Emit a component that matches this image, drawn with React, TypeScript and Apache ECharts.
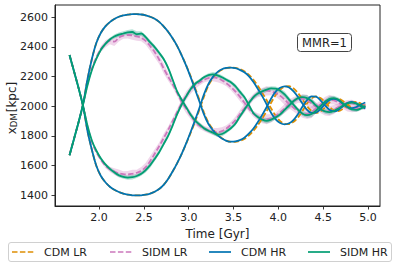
import React, { useEffect, useRef } from "react";
import * as echarts from "echarts";

// Time samples [Gyr]
const T = [1.67,1.72,1.77,1.82,1.87,1.92,1.97,2.02,2.07,2.12,2.17,2.22,2.27,2.32,2.37,2.42,2.47,2.52,2.57,2.62,2.67,2.72,2.77,2.82,2.87,2.92,2.97,3.02,3.07,3.12,3.17,3.22,3.27,3.32,3.37,3.42,3.47,3.52,3.57,3.62,3.67,3.72,3.77,3.82,3.87,3.92,3.97,4.02,4.07,4.12,4.17,4.22,4.27,4.32,4.37,4.42,4.47,4.52,4.57,4.62,4.67,4.72,4.77,4.82,4.87,4.92,4.97];

// CDM HR, halo A (starts high) and halo B (starts low)
const cdmHRa = [2345,2235,2125,2005,1835,1705,1597,1530,1488,1458,1437,1422,1411,1404,1400,1399,1400,1404,1412,1424,1442,1470,1510,1560,1615,1677,1748,1825,1905,1990,2080,2150,2198,2230,2249,2258,2260,2256,2245,2229,2203,2165,2118,2068,2012,1955,1912,1887,1878,1885,1908,1948,1998,2042,2066,2064,2040,2005,1976,1965,1975,2000,2022,2030,2020,2000,1985];
const cdmHRb = [1670,1780,1890,2010,2180,2320,2428,2495,2538,2567,2588,2603,2612,2617,2620,2620,2618,2612,2603,2589,2568,2538,2502,2458,2407,2345,2275,2198,2115,2030,1945,1880,1838,1805,1782,1767,1761,1763,1772,1788,1815,1848,1892,1942,1995,2052,2098,2124,2134,2126,2100,2062,2017,1976,1955,1957,1980,2015,2042,2050,2040,2016,1996,1987,1995,2012,2025];
// CDM LR
const cdmLRa = [2345,2235,2125,2005,1835,1705,1597,1530,1488,1458,1437,1422,1411,1404,1400,1399,1400,1404,1412,1424,1442,1470,1510,1560,1615,1677,1746,1818,1895,1978,2065,2140,2190,2225,2246,2257,2261,2259,2250,2236,2213,2180,2138,2090,2040,1985,1935,1900,1882,1880,1895,1925,1970,2018,2052,2066,2055,2028,1995,1972,1968,1982,2005,2025,2030,2018,2000];
const cdmLRb = [1670,1780,1890,2010,2180,2320,2428,2495,2538,2567,2588,2603,2612,2617,2620,2620,2618,2612,2603,2589,2568,2538,2502,2458,2407,2345,2278,2205,2125,2042,1958,1890,1845,1810,1785,1768,1760,1760,1767,1780,1803,1833,1872,1918,1968,2025,2075,2112,2132,2135,2120,2088,2045,2000,1968,1955,1965,1992,2025,2045,2050,2035,2012,1992,1985,1995,2012];
// SIDM LR
const sidmLRa = [2345,2235,2125,2005,1865,1760,1690,1640,1600,1575,1560,1548,1542,1540,1545,1552,1565,1590,1630,1680,1730,1785,1840,1900,1960,2020,2070,2110,2140,2160,2178,2190,2195,2190,2175,2155,2130,2100,2065,2025,1985,1950,1928,1915,1912,1918,1935,1958,1985,2012,2035,2048,2050,2040,2020,1998,1978,1968,1968,1978,1995,2012,2022,2020,2010,1998,1992];
const sidmLRb = [1670,1780,1890,2010,2150,2255,2330,2385,2420,2440,2435,2462,2475,2480,2478,2470,2460,2440,2405,2365,2315,2255,2200,2150,2090,2030,1985,1940,1895,1868,1850,1838,1830,1825,1832,1850,1875,1905,1945,1985,2025,2060,2085,2095,2105,2100,2088,2070,2045,2015,1990,1965,1950,1948,1960,1985,2012,2035,2045,2040,2025,2005,1988,1980,1985,1998,2010];
// SIDM HR
const sidmHRa = [2345,2235,2125,2005,1870,1768,1700,1648,1608,1578,1555,1535,1524,1519,1522,1530,1545,1570,1603,1645,1690,1745,1800,1870,1945,2010,2065,2115,2150,2172,2195,2210,2215,2208,2195,2178,2162,2135,2098,2062,2010,1955,1928,1910,1902,1910,1925,1945,1975,2005,2035,2055,2062,2055,2035,2005,1980,1965,1960,1968,1985,2005,2020,2025,2018,2005,1995];
const sidmHRb = [1670,1780,1890,2010,2140,2245,2320,2380,2420,2450,2470,2482,2490,2498,2500,2485,2490,2465,2430,2398,2360,2318,2258,2180,2100,2045,1995,1945,1905,1877,1852,1835,1822,1808,1813,1830,1852,1882,1930,1975,2020,2060,2085,2100,2112,2120,2118,2105,2080,2045,2010,1975,1950,1940,1948,1970,2000,2030,2050,2055,2045,2020,1995,1978,1975,1985,2000];

// Half-widths of the shaded scatter bands
const sidmLRSprA = [4,4,4,5,8,10,12,14,16,18,22,26,20,24,28,20,26,30,34,30,26,30,24,20,22,26,30,28,24,20,18,22,26,28,24,20,22,26,30,24,22,20,24,30,34,28,22,26,30,34,28,24,30,38,32,28,24,30,34,30,24,22,20,24,22,20,18];
const sidmLRSprB = [4,4,4,5,8,12,16,20,24,22,30,26,20,24,30,28,22,26,32,36,30,34,28,24,20,26,30,26,22,20,18,20,24,28,26,22,20,24,28,32,26,22,24,28,32,26,24,30,36,30,26,24,28,34,40,32,26,28,32,28,24,22,24,20,22,18,16];
const sidmHRSprA = [3,3,3,4,6,8,9,10,11,12,13,14,12,14,15,13,14,16,18,16,14,15,14,12,13,14,16,15,14,12,12,13,15,16,14,12,13,15,17,15,13,12,14,16,18,16,14,15,17,19,16,14,16,20,18,16,14,16,18,16,14,13,12,14,13,12,11];
const sidmHRSprB = [3,3,3,4,6,8,10,11,12,12,13,14,15,16,18,20,15,14,16,15,14,13,14,15,14,13,12,14,16,15,13,12,14,15,16,14,12,14,16,15,13,14,16,18,16,14,15,17,20,18,15,14,16,18,22,18,15,16,18,16,14,13,14,12,13,12,11];

const X_TICKS = [2.0, 2.5, 3.0, 3.5, 4.0, 4.5, 5.0];
const Y_TICKS = [1400, 1600, 1800, 2000, 2200, 2400, 2600];

const LEGEND = [
  { name: "CDM LR", color: "#DE8F05", dashed: true },
  { name: "SIDM LR", color: "#CC78BC", dashed: true },
  { name: "CDM HR", color: "#0173B2", dashed: false },
  { name: "SIDM HR", color: "#029E73", dashed: false },
];

const FONT = "DejaVu Sans";
const DASH = [5.5, 2.4];

function pts(arr: number[]) {
  return T.map((t, i) => [t, arr[i]]);
}

function band(vals: number[], spr: number[], color: string) {
  return {
    type: "custom",
    silent: true,
    z: 1,
    data: [[T[0], vals[0]]],
    renderItem: (params: any, api: any) => {
      if (params.dataIndex !== 0) return null;
      const up = T.map((t, i) => api.coord([t, vals[i] + spr[i]]));
      const lo = T.map((t, i) => api.coord([t, vals[i] - spr[i]])).reverse();
      return {
        type: "polygon",
        shape: { points: up.concat(lo) },
        style: { fill: color, opacity: 0.3, stroke: "none" },
      };
    },
  };
}

function line(name: string, vals: number[], color: string, dashed: boolean, z: number) {
  return {
    type: "line",
    name,
    data: pts(vals),
    showSymbol: false,
    symbol: "none",
    smooth: 0.3,
    z,
    lineStyle: { color, width: 1.8, type: dashed ? DASH : "solid" },
  };
}

export default function App() {
  const ref = useRef<HTMLDivElement>(null);
  useEffect(() => {
    if (!ref.current) return;
    const chart = echarts.init(ref.current, undefined, { renderer: "svg" });

    const legendGraphics: any[] = [
      {
        type: "rect",
        shape: { x: 8.5, y: 242.5, width: 383, height: 19, r: 2.5 },
        style: { fill: "#fff", stroke: "#d0d0d0", lineWidth: 1 },
        z: 10,
      },
    ];
    const lx = [12, 110, 209, 308];
    LEGEND.forEach((it, i) => {
      legendGraphics.push({
        type: "line",
        shape: { x1: lx[i], y1: 252, x2: lx[i] + 22, y2: 252 },
        style: { stroke: it.color, lineWidth: 1.7, lineDash: it.dashed ? DASH : null },
        z: 11,
      });
      legendGraphics.push({
        type: "text",
        x: lx[i] + 32,
        y: 252,
        style: { text: it.name, font: `11px ${FONT}`, fill: "#222", verticalAlign: "middle", align: "left" },
        z: 11,
      });
    });

    const option: any = {
      animation: false,
      backgroundColor: "#fff",
      grid: {
        left: 55, right: 19, top: 5, bottom: 61,
        outerBoundsMode: "none", containLabel: false,
        show: true, borderColor: "#222", borderWidth: 1, backgroundColor: "transparent",
      },
      xAxis: {
        type: "value",
        min: 1.508,
        max: 5.134,
        splitLine: { show: false },
        axisLine: { show: true, lineStyle: { color: "#222", width: 1 } },
        axisTick: { show: true, inside: false, length: 3.5, lineStyle: { color: "#222", width: 0.9 }, customValues: X_TICKS },
        axisLabel: { customValues: X_TICKS, formatter: (v: number) => v.toFixed(1), fontFamily: FONT, fontSize: 11, color: "#222", margin: 6 },
        name: "Time [Gyr]",
        nameLocation: "middle",
        nameGap: 18,
        nameTextStyle: { fontFamily: FONT, fontSize: 12, color: "#222" },
      },
      yAxis: {
        type: "value",
        min: 1328,
        max: 2682,
        splitLine: { show: false },
        axisLine: { show: true, lineStyle: { color: "#222", width: 1 } },
        axisTick: { show: true, inside: false, length: 3.5, lineStyle: { color: "#222", width: 0.9 }, customValues: Y_TICKS },
        axisLabel: { customValues: Y_TICKS, formatter: (v: number) => String(Math.round(v)), fontFamily: FONT, fontSize: 11, color: "#222", margin: 7 },
      },
      graphic: [
        {
          type: "text",
          x: 12,
          y: 108,
          rotation: Math.PI / 2,
          style: {
            text: "{a|x}{s|DM}{a|[kpc]}",
            align: "center",
            verticalAlign: "middle",
            fill: "#222",
            rich: {
              a: { fontFamily: FONT, fontSize: 12, lineHeight: 13, verticalAlign: "top", fill: "#222" },
              s: { fontFamily: FONT, fontSize: 8.5, lineHeight: 10, verticalAlign: "bottom", padding: [5, 1, 0, 0], fill: "#222" },
            },
          },
          z: 11,
        },
        {
          type: "rect",
          shape: { x: 297.5, y: 33.5, width: 54, height: 18, r: 3 },
          style: { fill: "#fff", stroke: "#444", lineWidth: 1 },
          z: 10,
        },
        {
          type: "text",
          x: 324.5,
          y: 43,
          style: { text: "MMR=1", font: `11.5px ${FONT}`, fill: "#222", align: "center", verticalAlign: "middle" },
          z: 11,
        },
        ...legendGraphics,
      ],
      series: [
        band(sidmLRa, sidmLRSprA, "#CC78BC"),
        band(sidmLRb, sidmLRSprB, "#CC78BC"),
        band(sidmHRa, sidmHRSprA, "#029E73"),
        band(sidmHRb, sidmHRSprB, "#029E73"),
        line("CDM LR", cdmLRa, "#DE8F05", true, 2),
        line("CDM LR", cdmLRb, "#DE8F05", true, 2),
        line("SIDM LR", sidmLRa, "#CC78BC", true, 3),
        line("SIDM LR", sidmLRb, "#CC78BC", true, 3),
        line("CDM HR", cdmHRa, "#0173B2", false, 4),
        line("CDM HR", cdmHRb, "#0173B2", false, 4),
        line("SIDM HR", sidmHRa, "#029E73", false, 5),
        line("SIDM HR", sidmHRb, "#029E73", false, 5),
      ],
    };
    chart.setOption(option);
    return () => chart.dispose();
  }, []);
  return <div ref={ref} style={{ position: "fixed", left: 0, top: 0, width: 399, height: 267 }} />;
}
